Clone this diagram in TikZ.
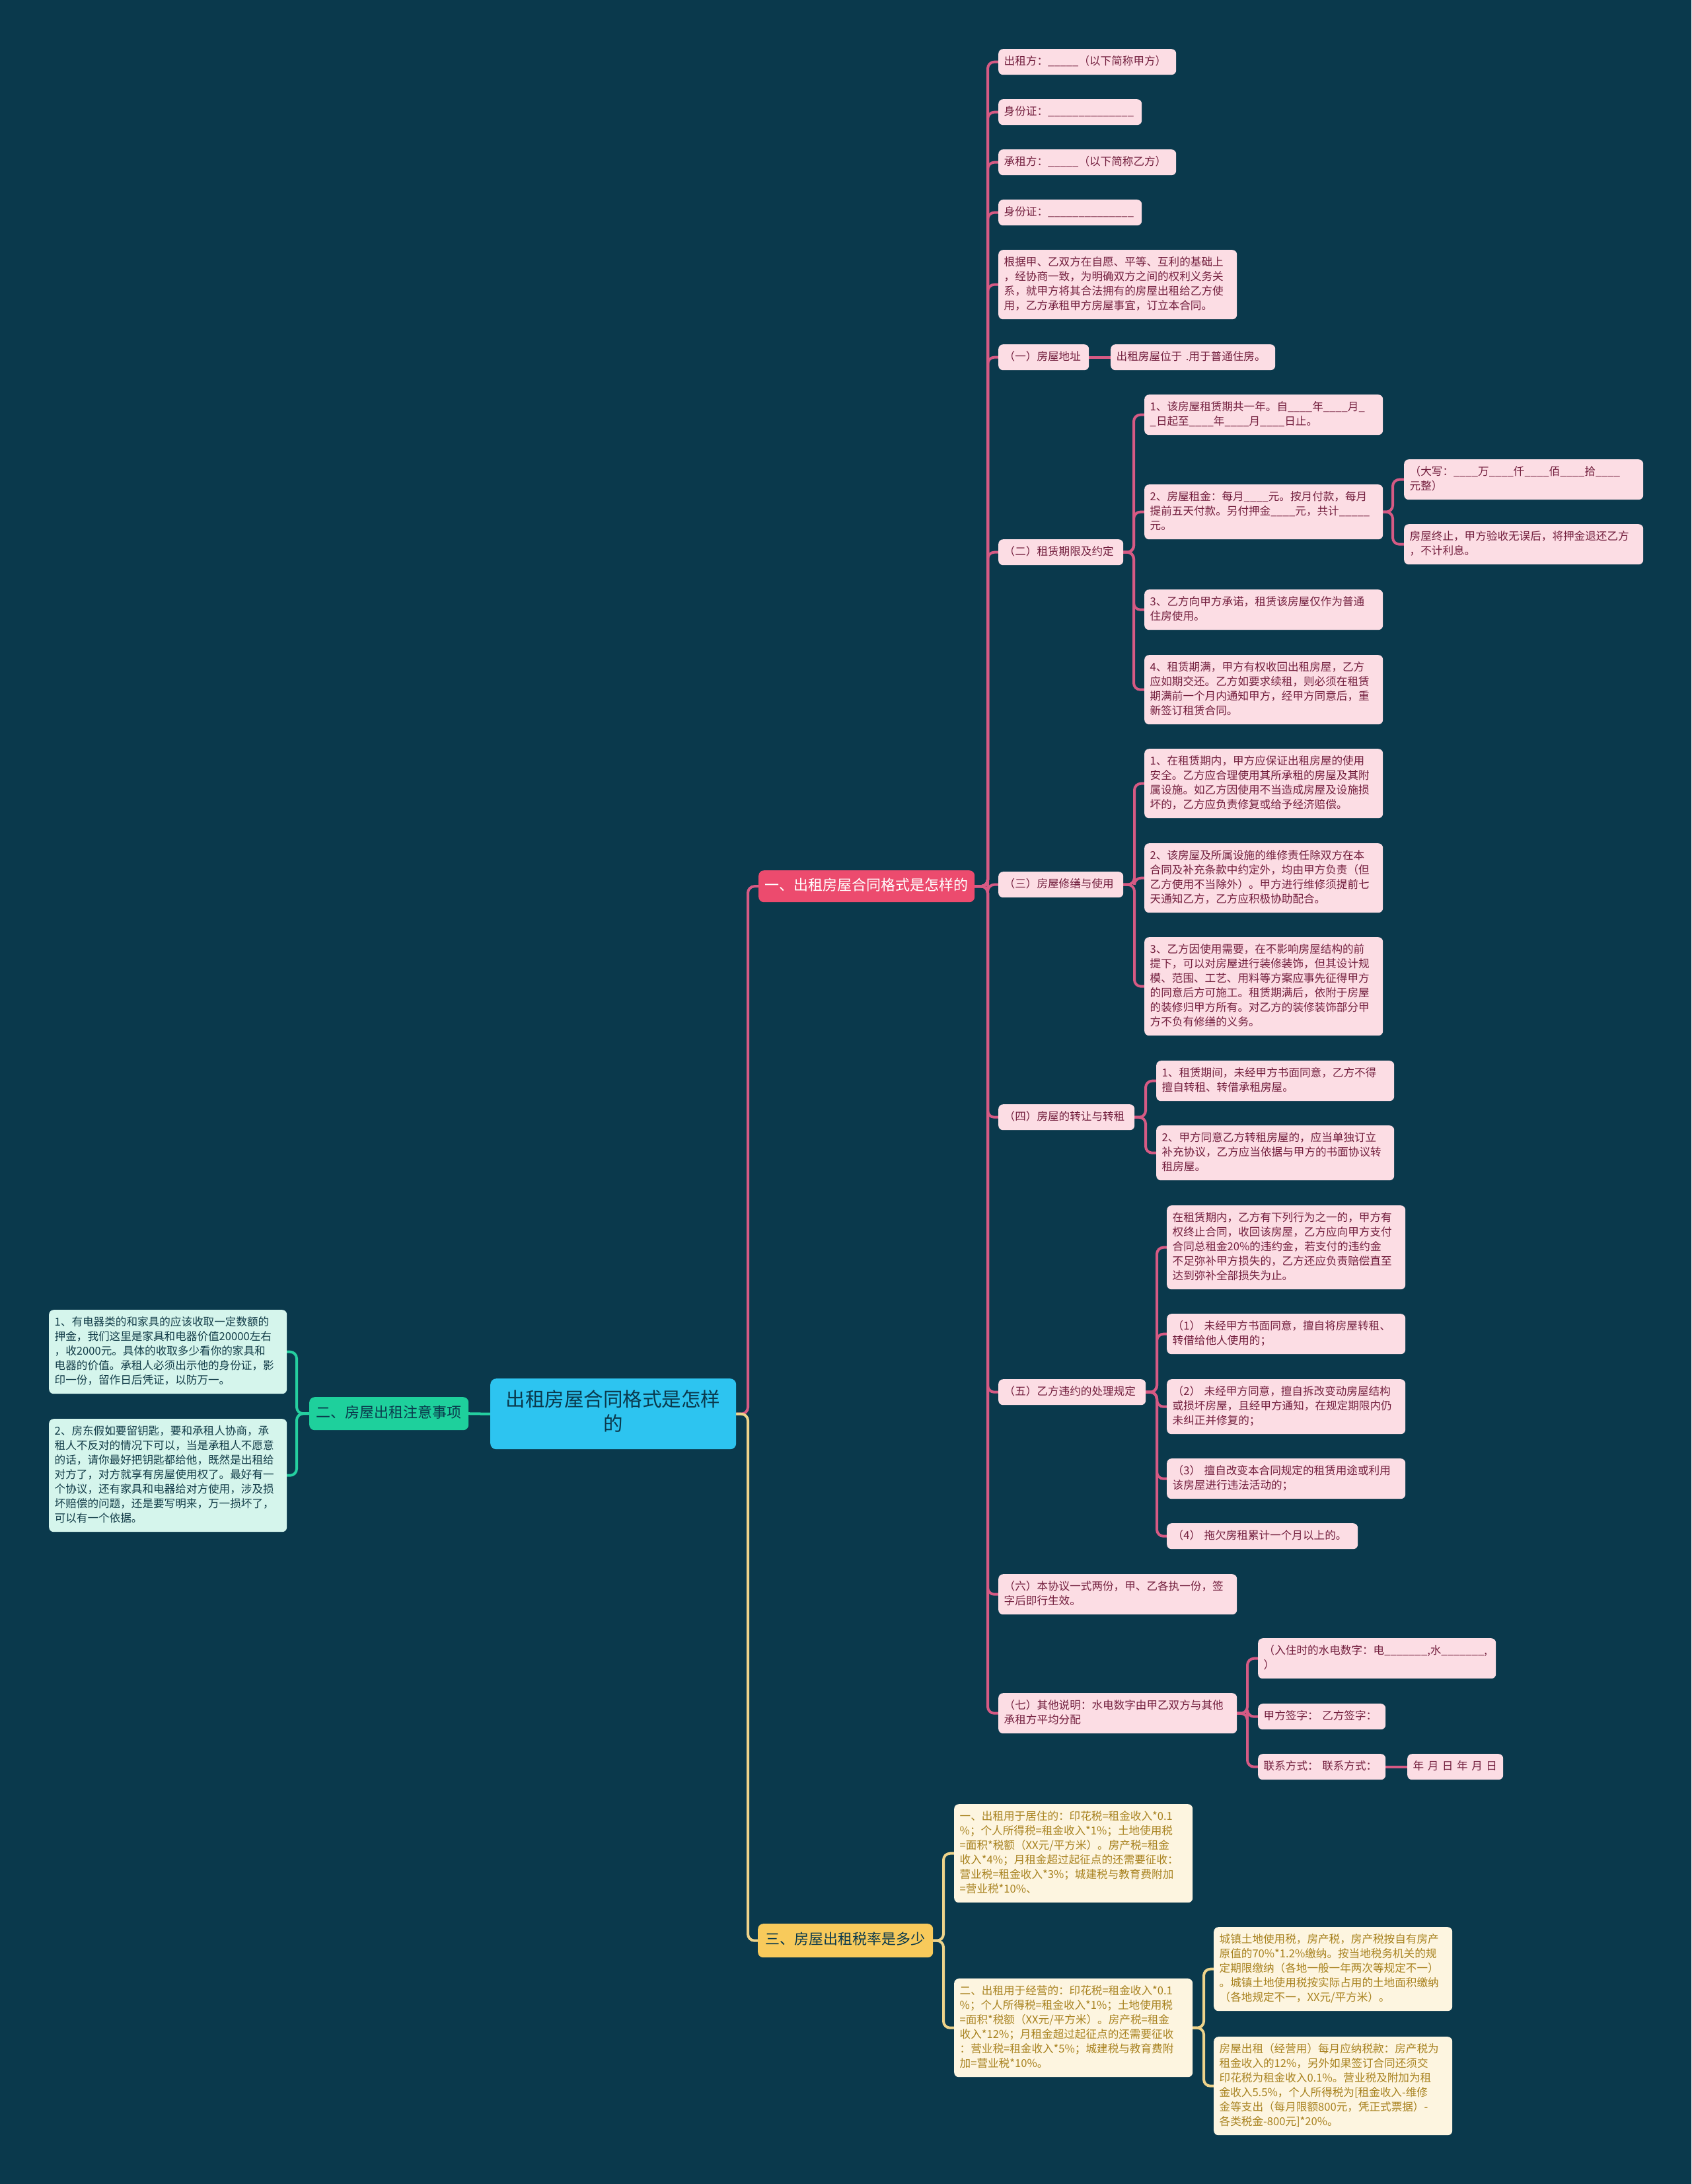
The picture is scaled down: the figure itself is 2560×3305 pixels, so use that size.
\documentclass[tikz,border=0pt]{standalone}
\usepackage{fontspec}
\newfontfamily\cjk{Noto Sans CJK SC}
\usetikzlibrary{positioning}
\definecolor{bg}{HTML}{0A394C}
\definecolor{pkfill}{HTML}{FCDDE4}
\definecolor{pktext}{HTML}{731F3E}
\definecolor{pkline}{HTML}{D65A84}
\definecolor{mtfill}{HTML}{D5F5EC}
\definecolor{mttext}{HTML}{123C48}
\definecolor{gline}{HTML}{25CFA0}
\definecolor{ylfill}{HTML}{FDF5E0}
\definecolor{yltext}{HTML}{A8821F}
\definecolor{yline}{HTML}{EED38A}
\definecolor{redb}{HTML}{EC4B6E}
\definecolor{greenb}{HTML}{1ED09C}
\definecolor{yellowb}{HTML}{F8CA5B}
\definecolor{cyanc}{HTML}{2DC4F0}
\definecolor{darkt}{HTML}{0A394C}
\pgfdeclarelayer{background}
\pgfsetlayers{background,main}
\begin{document}
\begin{tikzpicture}[x=1pt,y=-1pt,
  leaf/.style={anchor=north west, rounded corners=7pt, inner xsep=8.5pt, inner ysep=8.5pt,
    align=left, font=\cjk\fontsize{16.6}{22}\selectfont,
    execute at begin node=\strut, execute at end node=\strut},
  pk/.style={leaf, fill=pkfill, text=pktext},
  mt/.style={leaf, fill=mtfill, text=mttext},
  yl/.style={leaf, fill=ylfill, text=yltext},
  brn/.style={anchor=north west, rounded corners=8pt, align=center,
    font=\cjk\fontsize{22}{29}\selectfont,
    execute at begin node=\strut, execute at end node=\strut},
  conn/.style={line width=4pt, line cap=round, rounded corners=10pt},
  pl/.style={conn, draw=pkline},
  gl/.style={conn, draw=gline},
  ylin/.style={conn, draw=yline}
]
\useasboundingbox (0,0) rectangle (2560,3305);

% ---------- center and branches ----------
\node[anchor=north west, rounded corners=9pt, fill=cyanc, text=darkt, align=center,
  inner xsep=20pt, inner ysep=16.5pt, text width=332pt,
  font=\cjk\fontsize{29.5}{37}\selectfont,
  execute at begin node=\strut, execute at end node=\strut]
  (ctr) at (742,2086) {出租房屋合同格式是怎样\\的};
\node[brn, fill=redb, text=white, inner xsep=9pt, inner ysep=9.5pt, text width=309pt]
  (b1) at (1148,1317) {一、出租房屋合同格式是怎样的};
\node[brn, fill=greenb, text=darkt, inner xsep=10pt, inner ysep=10.5pt, text width=221pt]
  (b2) at (468,2114) {二、房屋出租注意事项};
\node[brn, fill=yellowb, text=darkt, inner xsep=11pt, inner ysep=11pt, text width=243pt]
  (b3) at (1147,2911) {三、房屋出租税率是多少};

% ---------- branch 二 leaves ----------
\node[mt, text width=343pt] (l1) at (74,1982) {1、有电器类的和家具的应该收取一定数额的\\押金，我们这里是家具和电器价值20000左右\\，收2000元。具体的收取多少看你的家具和\\电器的价值。承租人必须出示他的身份证，影\\印一份，留作日后凭证，以防万一。};
\node[mt, text width=343pt] (l2) at (74,2147) {2、房东假如要留钥匙，要和承租人协商，承\\租人不反对的情况下可以，当是承租人不愿意\\的话，请你最好把钥匙都给他，既然是出租给\\对方了，对方就享有房屋使用权了。最好有一\\个协议，还有家具和电器给对方使用，涉及损\\坏赔偿的问题，还是要写明来，万一损坏了，\\可以有一个依据。};

% ---------- branch 一 ----------
\node[pk, text width=252pt] (n1) at (1511,74) {出租方：\_\_\_\_\_（以下简称甲方）};
\node[pk, text width=200pt] (n2) at (1511,150) {身份证：\_\_\_\_\_\_\_\_\_\_\_\_\_\_};
\node[pk, text width=252pt] (n3) at (1511,226) {承租方：\_\_\_\_\_（以下简称乙方）};
\node[pk, text width=200pt] (n4) at (1511,302) {身份证：\_\_\_\_\_\_\_\_\_\_\_\_\_\_};
\node[pk, text width=344pt] (n5) at (1511,378) {根据甲、乙双方在自愿、平等、互利的基础上\\，经协商一致，为明确双方之间的权利义务关\\系，就甲方将其合法拥有的房屋出租给乙方使\\用，乙方承租甲方房屋事宜，订立本合同。};
\node[pk, text width=120pt] (n6) at (1511,521) {（一）房屋地址};
\node[pk, text width=232pt] (n6a) at (1681,521) {出租房屋位于 .用于普通住房。};

\node[pk, text width=172pt] (n7) at (1511,816) {（二）租赁期限及约定};
\node[pk, text width=344pt] (n7a) at (1732,597) {1、该房屋租赁期共一年。自\_\_\_\_年\_\_\_\_月\_\\\_日起至\_\_\_\_年\_\_\_\_月\_\_\_\_日止。};
\node[pk, text width=344pt] (n7b) at (1732,733) {2、房屋租金：每月\_\_\_\_元。按月付款，每月\\提前五天付款。另付押金\_\_\_\_元，共计\_\_\_\_\_\\元。};
\node[pk, text width=345pt] (n7b1) at (2125,695) {（大写：\_\_\_\_万\_\_\_\_仟\_\_\_\_佰\_\_\_\_拾\_\_\_\_\\元整）};
\node[pk, text width=345pt] (n7b2) at (2125,793) {房屋终止，甲方验收无误后，将押金退还乙方\\，不计利息。};
\node[pk, text width=344pt] (n7c) at (1732,892) {3、乙方向甲方承诺，租赁该房屋仅作为普通\\住房使用。};
\node[pk, text width=344pt] (n7d) at (1732,991) {4、租赁期满，甲方有权收回出租房屋，乙方\\应如期交还。乙方如要求续租，则必须在租赁\\期满前一个月内通知甲方，经甲方同意后，重\\新签订租赁合同。};

\node[pk, text width=172pt] (n8) at (1511,1319) {（三）房屋修缮与使用};
\node[pk, text width=344pt] (n8a) at (1732,1133) {1、在租赁期内，甲方应保证出租房屋的使用\\安全。乙方应合理使用其所承租的房屋及其附\\属设施。如乙方因使用不当造成房屋及设施损\\坏的，乙方应负责修复或给予经济赔偿。};
\node[pk, text width=344pt] (n8b) at (1732,1276) {2、该房屋及所属设施的维修责任除双方在本\\合同及补充条款中约定外，均由甲方负责（但\\乙方使用不当除外）。甲方进行维修须提前七\\天通知乙方，乙方应积极协助配合。};
\node[pk, text width=344pt] (n8c) at (1732,1418) {3、乙方因使用需要，在不影响房屋结构的前\\提下，可以对房屋进行装修装饰，但其设计规\\模、范围、工艺、用料等方案应事先征得甲方\\的同意后方可施工。租赁期满后，依附于房屋\\的装修归甲方所有。对乙方的装修装饰部分甲\\方不负有修缮的义务。};

\node[pk, text width=189pt] (n9) at (1511,1671) {（四）房屋的转让与转租};
\node[pk, text width=343pt] (n9a) at (1750,1605) {1、租赁期间，未经甲方书面同意，乙方不得\\擅自转租、转借承租房屋。};
\node[pk, text width=343pt] (n9b) at (1750,1703) {2、甲方同意乙方转租房屋的，应当单独订立\\补充协议，乙方应当依据与甲方的书面协议转\\租房屋。};

\node[pk, text width=206pt] (n10) at (1511,2087) {（五）乙方违约的处理规定};
\node[pk, text width=344pt] (n10a) at (1766,1824) {在租赁期内，乙方有下列行为之一的，甲方有\\权终止合同，收回该房屋，乙方应向甲方支付\\合同总租金20\%的违约金，若支付的违约金\\不足弥补甲方损失的，乙方还应负责赔偿直至\\达到弥补全部损失为止。};
\node[pk, text width=344pt] (n10b) at (1766,1988) {（1） 未经甲方书面同意，擅自将房屋转租、\\转借给他人使用的；};
\node[pk, text width=344pt] (n10c) at (1766,2087) {（2） 未经甲方同意，擅自拆改变动房屋结构\\或损坏房屋，且经甲方通知，在规定期限内仍\\未纠正并修复的；};
\node[pk, text width=344pt] (n10d) at (1766,2207) {（3） 擅自改变本合同规定的租赁用途或利用\\该房屋进行违法活动的；};
\node[pk, text width=272pt] (n10e) at (1766,2305) {（4） 拖欠房租累计一个月以上的。};

\node[pk, text width=344pt] (n11) at (1511,2382) {（六）本协议一式两份，甲、乙各执一份，签\\字后即行生效。};
\node[pk, text width=344pt] (n12) at (1511,2562) {（七）其他说明：水电数字由甲乙双方与其他\\承租方平均分配};
\node[pk, text width=343pt] (n12a) at (1904,2479) {（入住时的水电数字：电\_\_\_\_\_\_\_,水\_\_\_\_\_\_\_,\\）};
\node[pk, text width=176pt] (n12b) at (1904,2578) {甲方签字： 乙方签字：};
\node[pk, text width=176pt] (n12c) at (1904,2654) {联系方式： 联系方式：};
\node[pk, text width=128pt] (n12d) at (2130,2654) {年 月 日 年 月 日};

% ---------- branch 三 ----------
\node[yl, text width=344pt] (y1) at (1444,2730) {一、出租用于居住的：印花税=租金收入*0.1\\\%；个人所得税=租金收入*1\%；土地使用税\\=面积*税额（XX元/平方米）。房产税=租金\\收入*4\%；月租金超过起征点的还需要征收：\\营业税=租金收入*3\%；城建税与教育费附加\\=营业税*10\%、};
\node[yl, text width=344pt] (y2) at (1444,2994) {二、出租用于经营的：印花税=租金收入*0.1\\\%；个人所得税=租金收入*1\%；土地使用税\\=面积*税额（XX元/平方米）。房产税=租金\\收入*12\%；月租金超过起征点的还需要征收\\：营业税=租金收入*5\%；城建税与教育费附\\加=营业税*10\%。};
\node[yl, text width=344pt] (y2a) at (1837,2916) {城镇土地使用税，房产税，房产税按自有房产\\原值的70\%*1.2\%缴纳。按当地税务机关的规\\定期限缴纳（各地一般一年两次等规定不一）\\。城镇土地使用税按实际占用的土地面积缴纳\\（各地规定不一，XX元/平方米）。};
\node[yl, text width=344pt] (y2b) at (1837,3082) {房屋出租（经营用）每月应纳税款：房产税为\\租金收入的12\%，另外如果签订合同还须交\\印花税为租金收入0.1\%。营业税及附加为租\\金收入5.5\%，个人所得税为[租金收入-维修\\金等支出（每月限额800元，凭正式票据）-\\各类税金-800元]*20\%。};

% ---------- trunk coordinates ----------
\coordinate (tC) at (1132,0);
\coordinate (tL) at (449,0);
\coordinate (tA) at (1495,0);
\coordinate (t7) at (1716,0);
\coordinate (t7b) at (2108,0);
\coordinate (t8) at (1717,0);
\coordinate (t9) at (1734,0);
\coordinate (t10) at (1751,0);
\coordinate (t12) at (1888,0);
\coordinate (t3) at (1428,0);
\coordinate (ty2) at (1822,0);

\begin{pgfonlayer}{background}
\fill[bg] (0,0) rectangle (2560,3305);
% center
\draw[gl] (ctr.west) -- (b2.east);
\foreach \c in {l1,l2} \draw[gl] (b2.west) -- (b2.west -| tL) |- (\c.east);
\draw[pl] (ctr.east) -- (ctr.east -| tC) |- (b1.west);
\draw[ylin] (ctr.east) -- (ctr.east -| tC) |- (b3.west);
% branch 一
\foreach \c in {n1,n2,n3,n4,n5,n6,n7,n8,n9,n10,n11,n12}
  \draw[pl] (b1.east) -- (b1.east -| tA) |- (\c.west);
\draw[pl] (n6.east) -- (n6a.west);
\foreach \c in {n7a,n7b,n7c,n7d}
  \draw[pl] (n7.east) -- (n7.east -| t7) |- (\c.west);
\foreach \c in {n7b1,n7b2}
  \draw[pl] (n7b.east) -- (n7b.east -| t7b) |- (\c.west);
\foreach \c in {n8a,n8b,n8c}
  \draw[pl] (n8.east) -- (n8.east -| t8) |- (\c.west);
\foreach \c in {n9a,n9b}
  \draw[pl] (n9.east) -- (n9.east -| t9) |- (\c.west);
\foreach \c in {n10a,n10b,n10c,n10d,n10e}
  \draw[pl] (n10.east) -- (n10.east -| t10) |- (\c.west);
\foreach \c in {n12a,n12b,n12c}
  \draw[pl] (n12.east) -- (n12.east -| t12) |- (\c.west);
\draw[pl] (n12c.east) -- (n12d.west);
% branch 三
\foreach \c in {y1,y2}
  \draw[ylin] (b3.east) -- (b3.east -| t3) |- (\c.west);
\foreach \c in {y2a,y2b}
  \draw[ylin] (y2.east) -- (y2.east -| ty2) |- (\c.west);
\end{pgfonlayer}
\end{tikzpicture}
\end{document}
